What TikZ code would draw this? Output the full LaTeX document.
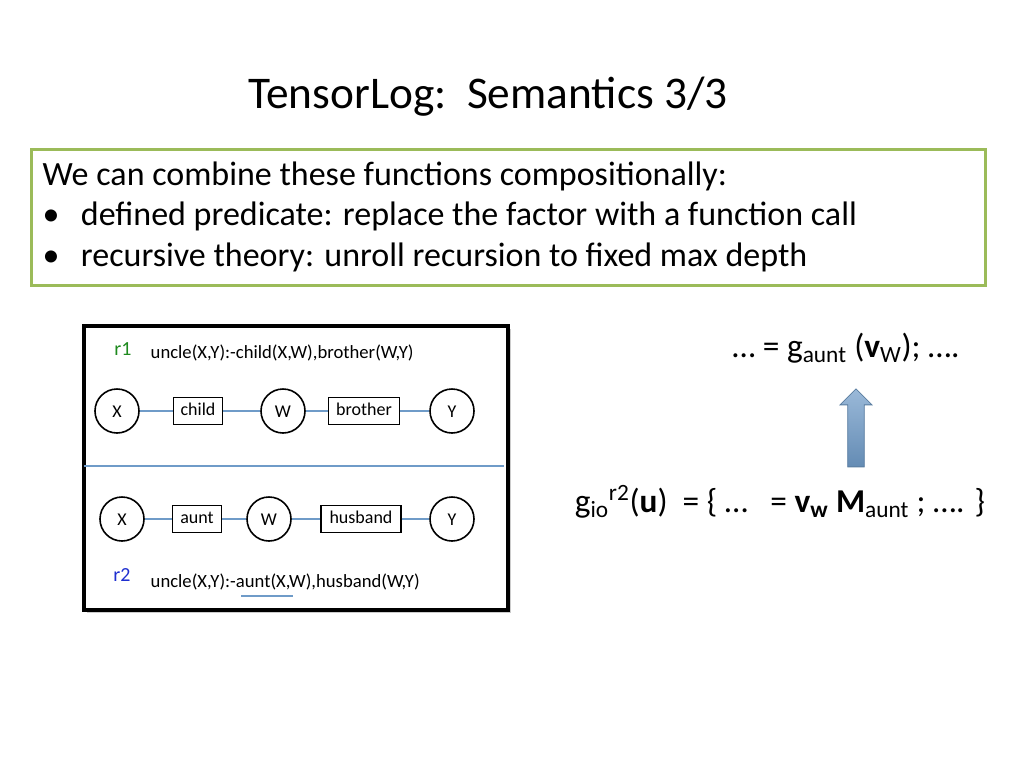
\documentclass[tikz,border=0pt]{standalone}
\usepackage{fontspec}
\setmainfont{Carlito}
\usetikzlibrary{shapes.arrows,shadows}
\definecolor{boxgreen}{HTML}{9BBB59}
\definecolor{edgeblue}{HTML}{6F9BC8}
\definecolor{rone}{HTML}{1E8A1E}
\definecolor{rtwo}{HTML}{1F2FD0}
\begin{document}
\begin{tikzpicture}[x=0.75pt,y=-0.75pt,
  var/.style={draw,circle,line width=1.2pt,minimum size=33pt,inner sep=0pt,text height=9pt,text depth=0pt,font=\fontsize{13.5}{15}\selectfont},
  fac/.style={draw,rectangle,line width=1pt,minimum height=20pt,inner sep=3pt,text height=9.5pt,text depth=2.5pt,font=\fontsize{13.5}{15}\selectfont},
  edge/.style={edgeblue,line width=1pt},
  rule/.style={anchor=west,font=\fontsize{14}{16}\selectfont},
  big/.style={font=\fontsize{25.5}{30}\selectfont}]
\useasboundingbox (0,0) rectangle (1024,768);
\node (title) at (488,97) {\fontsize{34}{40}\selectfont TensorLog:\ \ Semantics 3/3};
\node[draw=boxgreen,line width=2pt,fill=white,minimum width=954*0.75pt,minimum height=136*0.75pt,anchor=north west] (box) at (30,148) {};
\node[big,anchor=west] (l1) at (38,176) {We can combine these functions compositionally:};
\node[big,anchor=west] (l2) at (38,216) {\textbullet\hspace{16pt}defined predicate: replace the factor with a function call};
\node[big,anchor=west] (l3) at (38,257) {\textbullet\hspace{16pt}recursive theory: unroll recursion to fixed max depth};
% panel
\node[draw,line width=3pt,fill=white,drop shadow={opacity=0.4},minimum width=424*0.75pt,minimum height=284*0.75pt,anchor=north west] (panel) at (82,324) {};
\node[rone,font=\fontsize{15}{17}\selectfont] (r1) at (123,349) {r1};
\node[rule] (t1) at (146,353) {uncle(X,Y):-child(X,W),brother(W,Y)};
\node[var] (x1) at (117,411) {X};
\node[fac,minimum width=37pt] (c1) at (198,411) {child};
\node[var] (w1) at (283,411) {W};
\node[fac,minimum width=53pt] (b1) at (364,411) {brother};
\node[var] (y1) at (452,411) {Y};
\draw[edge] (x1)--(c1) (c1)--(w1) (w1)--(b1) (b1)--(y1);
\coordinate (dl) at (84,466); \coordinate (dr) at (504,466);
\draw[edgeblue,line width=1.5pt] (dl)--(dr);
\node[var] (x2) at (122,519) {X};
\node[fac,minimum width=37pt] (a2) at (197,519) {aunt};
\node[var] (w2) at (269,519) {W};
\node[fac,minimum width=60pt] (h2) at (361,519) {husband};
\node[var] (y2) at (452,519) {Y};
\draw[edge] (x2)--(a2) (a2)--(w2) (w2)--(h2) (h2)--(y2);
\node[rtwo,font=\fontsize{15}{17}\selectfont] (r2) at (122,575) {r2};
\node[rule] (t2) at (146,582) {uncle(X,Y):-aunt(X,W),husband(W,Y)};
\coordinate (ul) at (241,596); \coordinate (ur) at (293,596);
\draw[edgeblue,line width=1.5pt] (ul)--(ur);
% right side
\node[big,font=\fontsize{25}{30}\selectfont] (eq1) at (846,348) {… = g\textsubscript{aunt} (\textbf{v}\textsubscript{W}); ….};
\node[single arrow,shape border rotate=90,draw=edgeblue!80!black,line width=0.6pt,
  top color=edgeblue!70!white,bottom color=edgeblue!90!black,
  minimum height=78*0.75pt,minimum width=32*0.75pt,single arrow head extend=4pt,inner sep=4pt] (arr) at (856,432) {};
\node[big,font=\fontsize{25}{30}\selectfont] (eq2) at (780,502) {g\textsubscript{io}\textsuperscript{r2}(\textbf{u})\ \ = \{ …\ \ \ = \textbf{v\textsubscript{w}} \textbf{M}\textsubscript{aunt} ; …. \}};
\end{tikzpicture}
\end{document}
